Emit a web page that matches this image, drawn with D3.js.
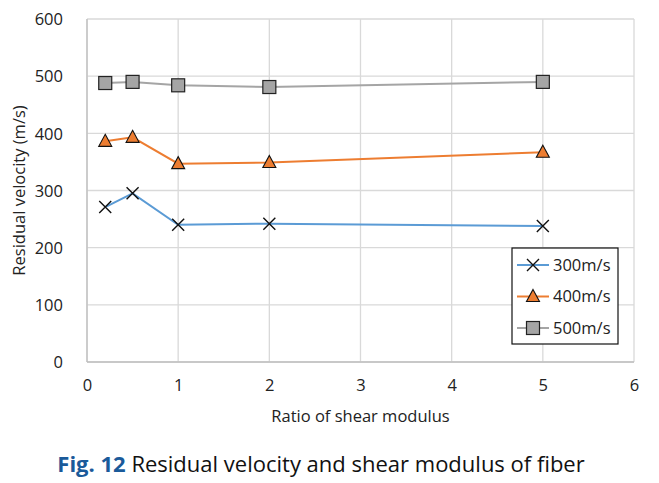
<!DOCTYPE html>
<html><head><meta charset="utf-8">
<script src="https://cdn.jsdelivr.net/npm/d3@7"></script>
<style>body{margin:0;background:#fff}</style>
</head><body>
<script>
const ratios = [0.2, 0.5, 1, 2, 5];
const v300 = [271, 295, 240, 242, 238];
const v400 = [386, 393, 347, 349, 367];
const v500 = [488, 490, 484, 481, 490];
const seriesNames = ["300m/s", "400m/s", "500m/s"];
const xTicks = [0, 1, 2, 3, 4, 5, 6];
const yTicks = [0, 100, 200, 300, 400, 500, 600];

const W = 659, H = 483;
const font = "'Open Sans', 'Noto Sans', sans-serif";
const fs = 16.5;
const svg = d3.select("body").append("svg").attr("width", W).attr("height", H)
  .style("font-family", font);

const x = d3.scaleLinear().domain([0, 6]).range([87, 634]);
const y = d3.scaleLinear().domain([0, 600]).range([362, 19]);

// grid
svg.append("g").selectAll("line").data(xTicks).join("line")
  .attr("x1", d => x(d)).attr("x2", d => x(d)).attr("y1", y(0)).attr("y2", y(600))
  .attr("stroke", "#d9d9d9").attr("stroke-width", 1.3);
svg.append("g").selectAll("line").data(yTicks).join("line")
  .attr("x1", x(0)).attr("x2", x(6)).attr("y1", d => y(d)).attr("y2", d => y(d))
  .attr("stroke", "#d9d9d9").attr("stroke-width", 1.3);
svg.append("line").attr("x1", x(0)).attr("x2", x(6)).attr("y1", y(0)).attr("y2", y(0))
  .attr("stroke", "#bfbfbf").attr("stroke-width", 1.3);
svg.append("line").attr("x1", x(0)).attr("x2", x(0)).attr("y1", y(0)).attr("y2", y(600))
  .attr("stroke", "#bfbfbf").attr("stroke-width", 1.3);

// axes
const xAxis = svg.append("g").attr("transform", `translate(0,${y(0)})`)
  .call(d3.axisBottom(x).tickValues(xTicks).tickSize(0).tickPadding(17).tickFormat(d3.format("d")));
const yAxis = svg.append("g").attr("transform", `translate(${x(0)},0)`)
  .call(d3.axisLeft(y).tickValues(yTicks).tickSize(0).tickPadding(24).tickFormat(d3.format("d")));
[xAxis, yAxis].forEach(a => {
  a.select(".domain").remove();
  a.selectAll("text").attr("font-size", fs).attr("fill", "#222").style("font-family", font);
});
yAxis.selectAll("text").attr("dy", "0.35em");

// titles
svg.append("text").attr("x", x(3)).attr("y", 422).attr("text-anchor", "middle")
  .attr("font-size", fs).attr("fill", "#222").text("Ratio of shear modulus");
svg.append("text").attr("transform", `translate(25,${y(300)}) rotate(-90)`)
  .attr("text-anchor", "middle").attr("font-size", fs).attr("fill", "#222")
  .text("Residual velocity (m/s)");

const cap = svg.append("text").attr("x", 321).attr("y", 472).attr("text-anchor", "middle")
  .attr("font-size", 22).attr("fill", "#111");
cap.append("tspan").attr("font-weight", "bold").attr("fill", "#1a5a9a").text("Fig. 12");
cap.append("tspan").text(" Residual velocity and shear modulus of fiber");

const colors = ["#5b9bd5", "#ed7d31", "#a5a5a5"];
const data = [v300, v400, v500];
const line = d3.line().x((d, i) => x(ratios[i])).y(d => y(d));

function marker(g, k, cx, cy) {
  if (k === 0) {
    const s = 6;
    g.append("path").attr("d", `M${cx-s},${cy-s}L${cx+s},${cy+s}M${cx-s},${cy+s}L${cx+s},${cy-s}`)
      .attr("stroke", "#111").attr("stroke-width", 1.4).attr("fill", "none");
  } else if (k === 1) {
    g.append("path").attr("d", `M${cx},${cy-7}L${cx+6.5},${cy+5}L${cx-6.5},${cy+5}Z`)
      .attr("fill", colors[1]).attr("stroke", "#111").attr("stroke-width", 1.1);
  } else {
    g.append("rect").attr("x", cx-6.5).attr("y", cy-6.5).attr("width", 13).attr("height", 13)
      .attr("fill", colors[2]).attr("stroke", "#222").attr("stroke-width", 1.2);
  }
}

data.forEach((vals, k) => {
  svg.append("path").datum(vals).attr("d", line).attr("fill", "none")
    .attr("stroke", colors[k]).attr("stroke-width", 2);
  const g = svg.append("g");
  vals.forEach((v, i) => marker(g, k, x(ratios[i]), y(v)));
});

// legend
const lg = svg.append("g");
lg.append("rect").attr("x", 512).attr("y", 248).attr("width", 106).attr("height", 96)
  .attr("fill", "#fff").attr("stroke", "#111").attr("stroke-width", 1.2);
seriesNames.forEach((name, k) => {
  const ly = 265 + k * 31.5;
  lg.append("line").attr("x1", 517).attr("x2", 549).attr("y1", ly).attr("y2", ly)
    .attr("stroke", colors[k]).attr("stroke-width", 2);
  marker(lg, k, 533, ly);
  lg.append("text").attr("x", 553).attr("y", ly).attr("dy", "0.35em")
    .attr("font-size", fs).attr("fill", "#222").text(name);
});
</script>
</body></html>
